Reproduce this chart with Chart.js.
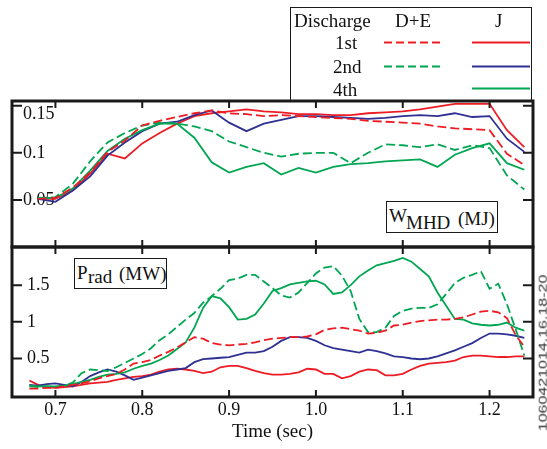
<!DOCTYPE html>
<html>
<head>
<meta charset="utf-8">
<script src="https://cdn.jsdelivr.net/npm/chart.js@4.4.1/dist/chart.umd.min.js"></script>
<style>
  body { margin: 0; background: #fff; }
  #wrap { position: relative; width: 547px; height: 449px; overflow: hidden; font-family: "Liberation Serif", "Times New Roman", serif; color: #111; }
  canvas { position: absolute; left: 0; top: 0; }
  .t { position: absolute; white-space: nowrap; font-size: 19px; line-height: 19px; }
  .box { position: absolute; box-sizing: border-box; border: 1.6px solid #1a1a1a; background: #fff; }
  #shot { position: absolute; left: 543px; top: 353px; font-family: "Liberation Sans", Arial, sans-serif; font-size: 16px; line-height: 16px; color: #333; white-space: nowrap; transform: translate(-50%, -50%) rotate(-90deg) scaleY(0.7); }
</style>
</head>
<body>
<div id="wrap">
  <canvas id="wChart" width="547" height="449"></canvas>
  <canvas id="pChart" width="547" height="449"></canvas>

  <div class="box" style="left:290px;top:7px;width:242px;height:95px;background:transparent"></div>
  <div class="t" style="left:294px;top:11px">Discharge</div>
  <div class="t" style="left:395px;top:11px">D+E</div>
  <div class="t" style="left:495px;top:11px">J</div>
  <div class="t" style="left:335px;top:33px">1st</div>
  <div class="t" style="left:333px;top:57px">2nd</div>
  <div class="t" style="left:333px;top:80px">4th</div>
  <svg style="position:absolute;left:0;top:0" width="547" height="110">
    <g stroke-width="2" fill="none">
      <line x1="384" y1="42.5" x2="442" y2="42.5" stroke="#ed1c24" stroke-dasharray="8,4"/>
      <line x1="472" y1="42.5" x2="530" y2="42.5" stroke="#ed1c24"/>
      <line x1="384" y1="66.5" x2="442" y2="66.5" stroke="#00a651" stroke-dasharray="8,4"/>
      <line x1="472" y1="66.5" x2="530" y2="66.5" stroke="#2e3192"/>
      <line x1="472" y1="88.5" x2="530" y2="88.5" stroke="#00a651"/>
    </g>
  </svg>

  <div class="box" style="left:386px;top:201px;width:112px;height:32px"></div>
  <div class="t" style="left:389px;top:206px">W</div>
  <div class="t" style="left:406px;top:213px">MHD</div>
  <div class="t" style="left:458px;top:209px">(MJ)</div>

  <div class="box" style="left:74px;top:258px;width:93px;height:31px"></div>
  <div class="t" style="left:77px;top:263px">P</div>
  <div class="t" style="left:88px;top:267px">rad</div>
  <div class="t" style="left:119px;top:264px">(MW)</div>

  <div id="shot">1060421014.16.18-20</div>
</div>

<script>
// time axis for stored energy (every 20 ms)
const timesW = [0.68, 0.70, 0.72, 0.74, 0.76, 0.78, 0.80, 0.82, 0.84, 0.86, 0.88, 0.90, 0.92, 0.94, 0.96,
                0.98, 1.00, 1.02, 1.04, 1.06, 1.08, 1.10, 1.12, 1.14, 1.16, 1.18, 1.20, 1.22, 1.24];

// W_MHD (MJ)
const wmhdDE1 = [0.051, 0.052, 0.063, 0.079, 0.101, 0.113, 0.129, 0.134, 0.138, 0.142, 0.145, 0.142, 0.141, 0.139, 0.140,
                 0.139, 0.138, 0.137, 0.136, 0.134, 0.133, 0.132, 0.131, 0.128, 0.126, 0.125, 0.124, 0.099, 0.087];
const wmhdDE2 = [0.052, 0.053, 0.067, 0.091, 0.111, 0.121, 0.129, 0.132, 0.131, 0.128, 0.123, 0.112, 0.106, 0.100, 0.096,
                 0.099, 0.100, 0.100, 0.089, 0.100, 0.109, 0.108, 0.106, 0.109, 0.103, 0.108, 0.105, 0.076, 0.061];
const wmhdJ1 = [0.051, 0.051, 0.060, 0.078, 0.099, 0.094, 0.110, 0.121, 0.131, 0.139, 0.142, 0.144, 0.146, 0.144, 0.143,
                0.141, 0.141, 0.140, 0.140, 0.142, 0.143, 0.144, 0.146, 0.149, 0.152, 0.152, 0.152, 0.124, 0.106];
const wmhdJ2 = [0.051, 0.048, 0.060, 0.075, 0.097, 0.111, 0.123, 0.131, 0.133, 0.140, 0.145, 0.132, 0.123, 0.131, 0.135,
                0.139, 0.139, 0.138, 0.137, 0.136, 0.137, 0.139, 0.140, 0.139, 0.142, 0.138, 0.139, 0.115, 0.101];
const wmhdJ4 = [0.052, 0.052, 0.062, 0.081, 0.102, 0.115, 0.124, 0.131, 0.131, 0.116, 0.090, 0.079, 0.085, 0.089, 0.077,
                0.084, 0.079, 0.085, 0.088, 0.089, 0.091, 0.092, 0.093, 0.085, 0.098, 0.105, 0.110, 0.089, 0.082];

// time axis for radiated power (every 10 ms)
const timesP = [0.67, 0.68, 0.69, 0.70, 0.71, 0.72, 0.73, 0.74, 0.75, 0.76,
                0.77, 0.78, 0.79, 0.80, 0.81, 0.82, 0.83, 0.84, 0.85, 0.86,
                0.87, 0.88, 0.89, 0.90, 0.91, 0.92, 0.93, 0.94, 0.95, 0.96,
                0.97, 0.98, 0.99, 1.00, 1.01, 1.02, 1.03, 1.04, 1.05, 1.06,
                1.07, 1.08, 1.09, 1.10, 1.11, 1.12, 1.13, 1.14, 1.15, 1.16,
                1.17, 1.18, 1.19, 1.20, 1.21, 1.22, 1.23, 1.24];

// P_rad (MW)
const pradDE1 = [0.09, 0.09, 0.10, 0.10, 0.12, 0.14, 0.16, 0.19, 0.23, 0.26,
                 0.29, 0.35, 0.43, 0.45, 0.48, 0.54, 0.59, 0.65, 0.72, 0.79,
                 0.77, 0.71, 0.69, 0.68, 0.69, 0.70, 0.72, 0.75, 0.77, 0.78,
                 0.79, 0.79, 0.80, 0.83, 0.89, 0.91, 0.92, 0.90, 0.88, 0.84,
                 0.85, 0.88, 0.95, 0.96, 0.99, 1.01, 1.02, 1.03, 1.03, 1.04,
                 1.06, 1.10, 1.14, 1.15, 1.13, 1.05, 0.82, 0.66];
const pradDE2 = [0.12, 0.11, 0.12, 0.11, 0.13, 0.17, 0.30, 0.35, 0.34, 0.33,
                 0.38, 0.44, 0.50, 0.56, 0.64, 0.75, 0.83, 0.93, 1.03, 1.12,
                 1.26, 1.35, 1.45, 1.57, 1.59, 1.64, 1.64, 1.55, 1.46, 1.36,
                 1.33, 1.40, 1.53, 1.66, 1.74, 1.76, 1.63, 1.42, 1.04, 0.86,
                 0.86, 0.92, 1.08, 1.15, 1.18, 1.19, 1.19, 1.24, 1.38, 1.53,
                 1.60, 1.64, 1.69, 1.45, 1.52, 1.24, 0.90, 0.54];
const pradJ1 = [0.20, 0.14, 0.11, 0.10, 0.11, 0.12, 0.14, 0.16, 0.17, 0.18,
                0.21, 0.23, 0.25, 0.26, 0.28, 0.32, 0.35, 0.36, 0.35, 0.33,
                0.30, 0.32, 0.38, 0.40, 0.40, 0.37, 0.33, 0.30, 0.28, 0.28,
                0.29, 0.31, 0.36, 0.35, 0.29, 0.29, 0.23, 0.26, 0.32, 0.35,
                0.34, 0.27, 0.27, 0.29, 0.35, 0.40, 0.43, 0.44, 0.45, 0.47,
                0.52, 0.54, 0.54, 0.53, 0.52, 0.52, 0.53, 0.53];
const pradJ2 = [0.14, 0.13, 0.15, 0.16, 0.14, 0.12, 0.18, 0.26, 0.31, 0.35,
                0.32, 0.27, 0.21, 0.24, 0.27, 0.30, 0.33, 0.35, 0.37, 0.45,
                0.49, 0.50, 0.51, 0.52, 0.55, 0.58, 0.58, 0.60, 0.66, 0.74,
                0.79, 0.79, 0.78, 0.74, 0.68, 0.64, 0.62, 0.60, 0.58, 0.62,
                0.60, 0.57, 0.53, 0.52, 0.50, 0.49, 0.50, 0.53, 0.57, 0.61,
                0.66, 0.71, 0.78, 0.84, 0.84, 0.83, 0.81, 0.78];
const pradJ4 = [0.13, 0.12, 0.12, 0.12, 0.13, 0.15, 0.18, 0.21, 0.25, 0.28,
                0.29, 0.31, 0.36, 0.40, 0.43, 0.48, 0.54, 0.63, 0.72, 0.92,
                1.19, 1.35, 1.32, 1.20, 1.03, 1.04, 1.10, 1.25, 1.42, 1.46,
                1.51, 1.53, 1.55, 1.56, 1.51, 1.38, 1.40, 1.50, 1.62, 1.70,
                1.77, 1.80, 1.83, 1.87, 1.82, 1.72, 1.62, 1.40, 1.22, 1.04,
                1.03, 0.98, 0.96, 0.95, 0.96, 0.99, 0.92, 0.88];

const xTicks = [0.7, 0.8, 0.9, 1.0, 1.1, 1.2];
const wTicks = [0.05, 0.1, 0.15];
const pTicks = [0.5, 1, 1.5];

const RED = "#ed1c24";
const BLUE = "#2e3192";
const GREEN = "#00a651";

Chart.defaults.font.family = '"Liberation Serif", "Times New Roman", serif';
Chart.defaults.color = "#111";

function series(label, xs, ys, color, dashed) {
    return {
        label: label,
        data: xs.map((x, i) => ({ x: x, y: ys[i] })),
        borderColor: color,
        borderWidth: 1.8,
        borderDash: dashed ? [9, 4] : [],
        pointRadius: 0,
        tension: 0,
        fill: false
    };
}

// frame round the plot area plus inward tick marks on all four sides
const framePlugin = {
    id: "frame",
    afterDraw(chart) {
        const { ctx, chartArea: a, scales } = chart;
        ctx.save();
        ctx.strokeStyle = "#1a1a1a";
        ctx.lineWidth = 2;
        ctx.beginPath();
        scales.x.ticks.forEach(t => {
            const px = scales.x.getPixelForValue(t.value);
            ctx.moveTo(px, a.top); ctx.lineTo(px, a.top + 7);
            ctx.moveTo(px, a.bottom); ctx.lineTo(px, a.bottom - 7);
        });
        scales.y.ticks.forEach(t => {
            const py = scales.y.getPixelForValue(t.value);
            ctx.moveTo(a.left, py); ctx.lineTo(a.left + 10, py);
            ctx.moveTo(a.right, py); ctx.lineTo(a.right - 10, py);
        });
        ctx.stroke();
        ctx.lineWidth = 3;
        ctx.strokeRect(a.left, a.top, a.right - a.left, a.bottom - a.top);
        ctx.restore();
    }
};

function xScale(showLabels) {
    return {
        type: "linear",
        min: 0.65,
        max: 1.25,
        afterBuildTicks: s => { s.ticks = xTicks.map(v => ({ value: v })); },
        // fixed band under the plot for tick labels and title
        afterFit: s => { s.height = showLabels ? 46 : 0; },
        grid: { display: false, drawTicks: false },
        border: { display: false },
        ticks: {
            display: showLabels,
            padding: 2,
            font: { size: 18 },
            maxRotation: 0,
            callback: v => Number(v).toFixed(1)
        },
        title: {
            display: showLabels,
            text: "Time (sec)",
            font: { size: 19 },
            padding: { top: 0, bottom: 0 }
        }
    };
}

function yScale(min, max, tickList, pad) {
    const top = tickList[tickList.length - 1];
    return {
        min: min,
        max: max,
        afterBuildTicks: s => { s.ticks = tickList.map(v => ({ value: v })); },
        afterFit: s => { s.width = 0; },  // labels sit inside the frame
        grid: { display: false, drawTicks: false },
        border: { display: false },
        ticks: {
            mirror: true,
            padding: pad,
            font: { size: 18, lineHeight: 1 },
            // the top label of the upper panel is pushed down, clear of the frame
            callback: v => (max < 1 && v === top) ? ["", String(v)] : String(v)
        }
    };
}

const common = {
    responsive: false,
    animation: false,
    events: [],
    plugins: { legend: { display: false }, tooltip: { enabled: false } }
};

new Chart(document.getElementById("wChart"), {
    type: "line",
    data: {
        datasets: [
            series("D+E 1st", timesW, wmhdDE1, RED, true),
            series("D+E 2nd", timesW, wmhdDE2, GREEN, true),
            series("J 4th", timesW, wmhdJ4, GREEN, false),
            series("J 2nd", timesW, wmhdJ2, BLUE, false),
            series("J 1st", timesW, wmhdJ1, RED, false)
        ]
    },
    options: Object.assign({}, common, {
        layout: { padding: { left: 12, right: 14, top: 101, bottom: 202 } },
        scales: { x: xScale(false), y: yScale(0, 0.155, wTicks, 11) }
    }),
    plugins: [framePlugin]
});

new Chart(document.getElementById("pChart"), {
    type: "line",
    data: {
        datasets: [
            series("D+E 1st", timesP, pradDE1, RED, true),
            series("D+E 2nd", timesP, pradDE2, GREEN, true),
            series("J 4th", timesP, pradJ4, GREEN, false),
            series("J 2nd", timesP, pradJ2, BLUE, false),
            series("J 1st", timesP, pradJ1, RED, false)
        ]
    },
    options: Object.assign({}, common, {
        layout: { padding: { left: 12, right: 14, top: 247, bottom: 6 } },
        scales: { x: xScale(true), y: yScale(-0.025, 2.02, pTicks, 15) }
    }),
    plugins: [framePlugin]
});
</script>
</body>
</html>
